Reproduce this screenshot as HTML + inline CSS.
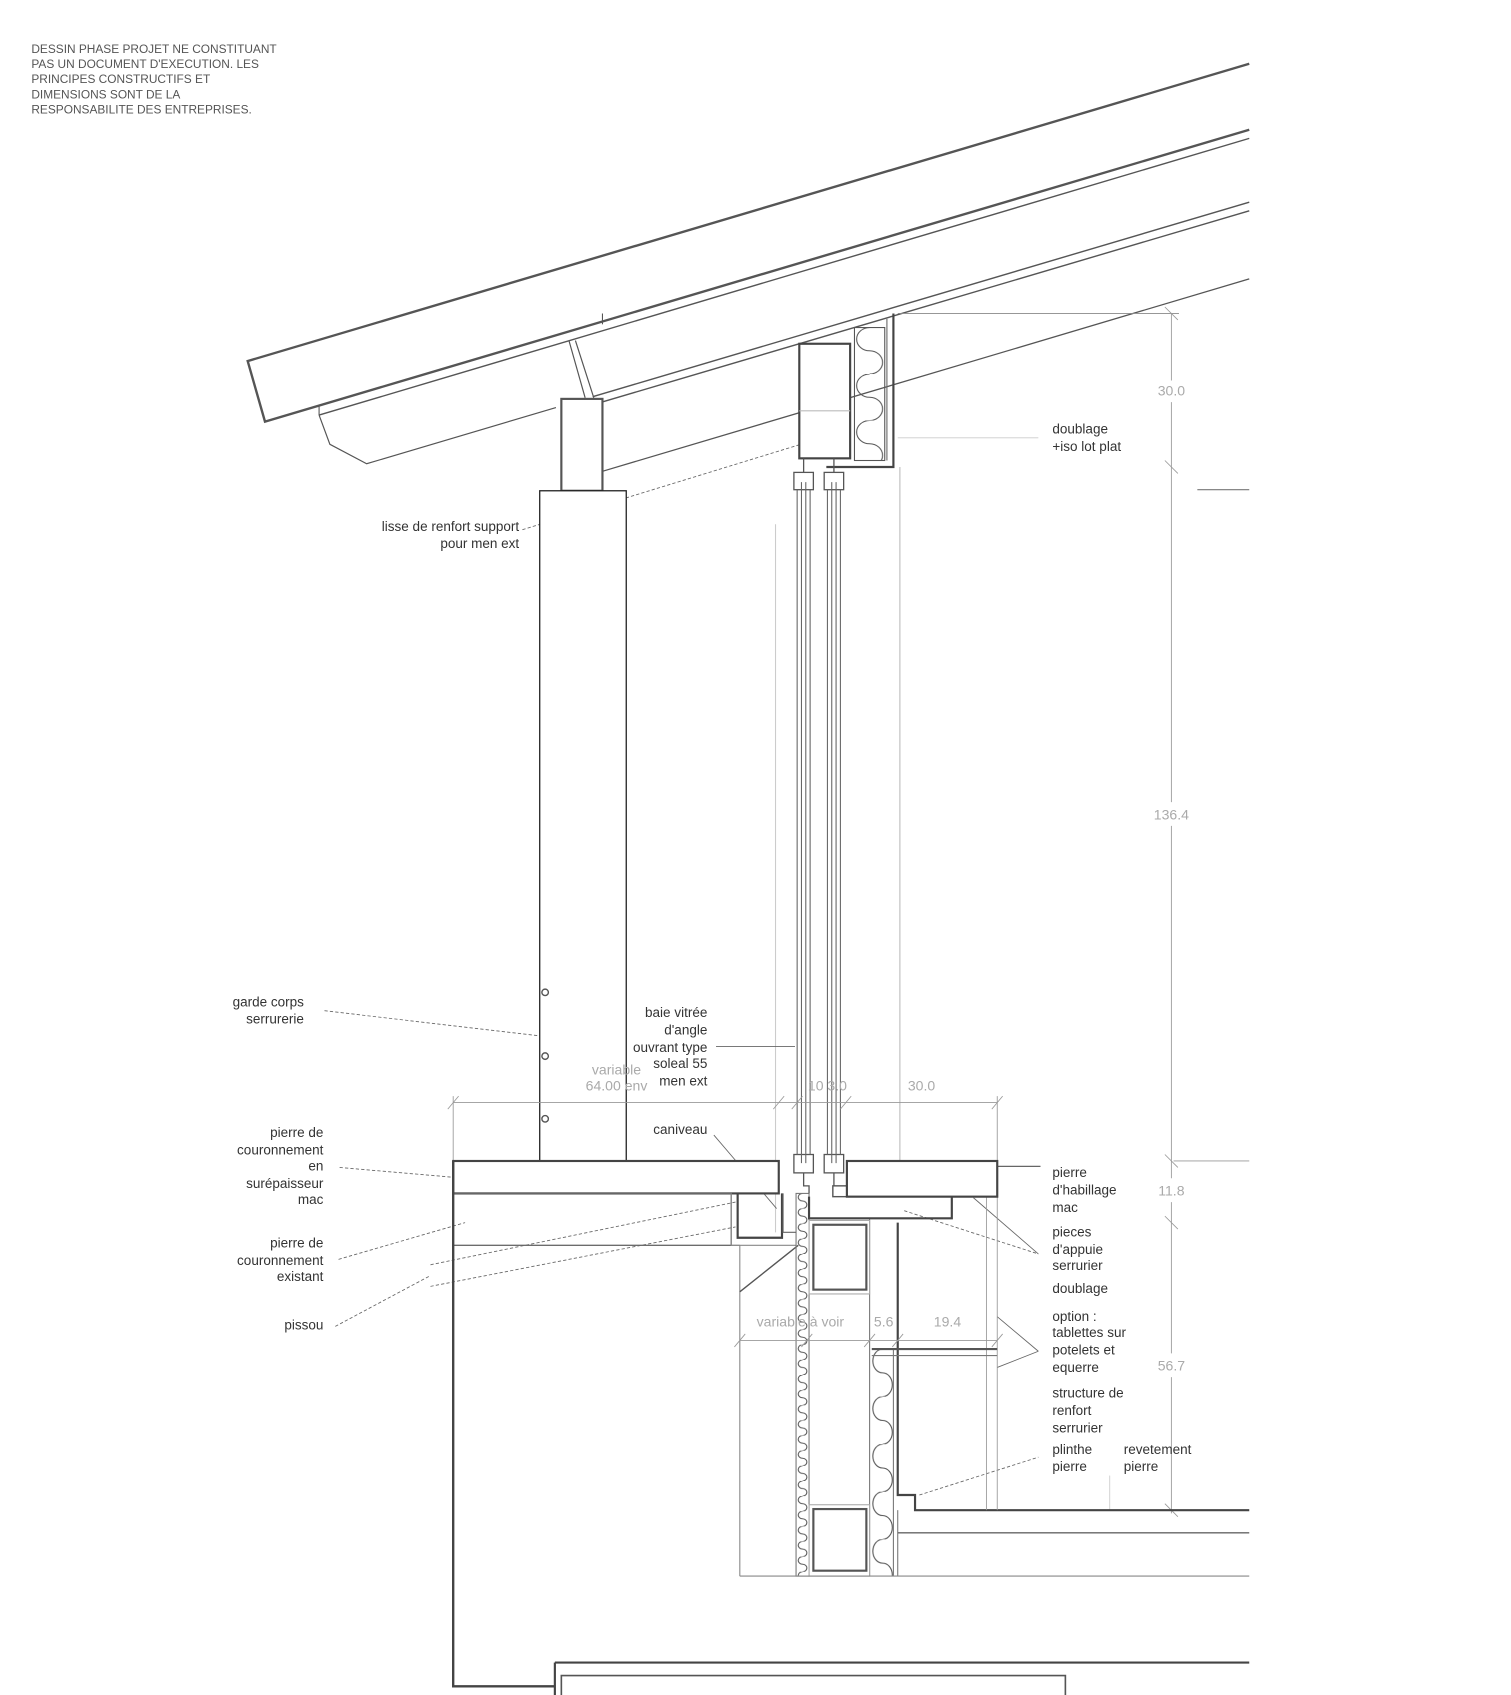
<!DOCTYPE html>
<html><head><meta charset="utf-8"><style>
html,body{margin:0;padding:0;background:#fff;}
svg{display:block;}
text{font-family:"Liberation Sans",sans-serif;}
.l{font-size:12.5px;fill:#333;}
.n{font-size:13px;fill:#aaa;text-anchor:middle;}
.t{font-size:11px;fill:#555;}
</style></head><body>
<svg width="1511" height="1695" viewBox="0 0 1397 1568" preserveAspectRatio="none" xmlns="http://www.w3.org/2000/svg">
<defs>
<pattern id="ws" x="736" y="1104" width="12" height="14" patternUnits="userSpaceOnUse">
<path d="M6,0 A4,3.5 0 0 0 6,7 A4,3.5 0 0 1 6,14" fill="none" stroke="#555" stroke-width="1"/>
</pattern>
<pattern id="wl" x="805" y="1248" width="22" height="44" patternUnits="userSpaceOnUse">
<path d="M11,0 A9,11 0 0 0 11,22 A9,11 0 0 1 11,44" fill="none" stroke="#555" stroke-width="1"/>
</pattern>
<pattern id="wt" x="790" y="303" width="28" height="43" patternUnits="userSpaceOnUse">
<path d="M14,0 A12,10.75 0 0 0 14,21.5 A12,10.75 0 0 1 14,43" fill="none" stroke="#555" stroke-width="1"/>
</pattern>
</defs>
<rect width="1397" height="1568" fill="#fff"/>

<g class="t">
<text x="29" y="49">DESSIN PHASE PROJET NE CONSTITUANT</text>
<text x="29" y="63">PAS UN DOCUMENT D'EXECUTION. LES</text>
<text x="29" y="77">PRINCIPES CONSTRUCTIFS ET</text>
<text x="29" y="91">DIMENSIONS SONT DE LA</text>
<text x="29" y="105">RESPONSABILITE DES ENTREPRISES.</text>
</g>

<!-- roof -->
<g fill="none" stroke="#555">
<polyline points="1155,59 229,334 245,390 1155,120" stroke-width="2.2"/>
<line x1="295" y1="384" x2="1155" y2="128" stroke-width="1.3"/>
<line x1="295" y1="376" x2="295" y2="384" stroke-width="1"/>
<line x1="557" y1="290" x2="557" y2="300" stroke-width="1"/>
<polyline points="295,384 305,411 339,429 514,377" stroke-width="1.1"/>
<line x1="548" y1="367" x2="1155" y2="187" stroke-width="1.3"/>
<line x1="553" y1="373" x2="1155" y2="195" stroke-width="1.3"/>
<line x1="526" y1="315" x2="541" y2="368" stroke-width="1.1"/>
<line x1="532" y1="315" x2="549" y2="368" stroke-width="1.1"/>
<line x1="557" y1="436" x2="1155" y2="258" stroke-width="1.2"/>
</g>
<line x1="483" y1="490" x2="760" y2="405" stroke="#666" stroke-width="0.8" stroke-dasharray="3,2"/>

<!-- post -->
<rect x="519" y="369" width="38" height="85" fill="#fff" stroke="#555" stroke-width="2"/>
<rect x="499" y="454" width="80" height="620" fill="#fff" stroke="#222" stroke-width="1.2"/>
<g fill="none" stroke="#555" stroke-width="1.3">
<circle cx="504" cy="918" r="3"/><circle cx="504" cy="977" r="3"/><circle cx="504" cy="1035" r="3"/>
</g>

<!-- window head -->
<rect x="790" y="303" width="28" height="123" fill="url(#wt)" stroke="#555" stroke-width="1"/>
<rect x="739" y="318" width="47" height="106" fill="#fff" stroke="#444" stroke-width="2"/>
<line x1="739" y1="380" x2="786" y2="380" stroke="#bbb" stroke-width="1"/>
<polyline points="826,290 826,432 764,432" fill="none" stroke="#444" stroke-width="2"/>
<line x1="820" y1="295" x2="820" y2="426" stroke="#666" stroke-width="1"/>
<line x1="830" y1="290" x2="1090" y2="290" stroke="#888" stroke-width="0.8"/>
<line x1="830" y1="405" x2="960" y2="405" stroke="#ccc" stroke-width="0.8"/>
<line x1="832" y1="432" x2="832" y2="1074" stroke="#bbb" stroke-width="1"/>
<line x1="717" y1="485" x2="717" y2="1140" stroke="#ccc" stroke-width="1"/>

<!-- glass -->
<g fill="none" stroke="#555" stroke-width="1.2">
<rect x="734" y="437" width="18" height="16"/><rect x="762" y="437" width="18" height="16"/>
<rect x="734" y="1068" width="18" height="17"/><rect x="762" y="1068" width="18" height="17"/>
<line x1="743" y1="424" x2="743" y2="437"/><line x1="771" y1="424" x2="771" y2="437"/>
</g>
<g stroke="#666" stroke-width="1">
<line x1="737" y1="453" x2="737" y2="1068"/><line x1="741" y1="446" x2="741" y2="1076"/>
<line x1="745" y1="446" x2="745" y2="1076"/><line x1="749" y1="453" x2="749" y2="1068"/>
<line x1="765" y1="453" x2="765" y2="1068"/><line x1="769" y1="446" x2="769" y2="1076"/>
<line x1="773" y1="446" x2="773" y2="1076"/><line x1="777" y1="453" x2="777" y2="1068"/>
</g>

<!-- right dims -->
<g stroke="#999" stroke-width="0.8" fill="none">
<line x1="1083" y1="290" x2="1083" y2="352"/><line x1="1083" y1="372" x2="1083" y2="742"/>
<line x1="1083" y1="764" x2="1083" y2="1090"/><line x1="1083" y1="1112" x2="1083" y2="1252"/>
<line x1="1083" y1="1274" x2="1083" y2="1400"/>
<line x1="1077" y1="284" x2="1089" y2="296"/><line x1="1077" y1="426" x2="1089" y2="438"/>
<line x1="1077" y1="1068" x2="1089" y2="1080"/><line x1="1077" y1="1125" x2="1089" y2="1137"/>
<line x1="1077" y1="1391" x2="1089" y2="1403"/>
<line x1="1085" y1="1074" x2="1155" y2="1074"/>
</g>
<line x1="1107" y1="453" x2="1155" y2="453" stroke="#777" stroke-width="1"/>
<text class="n" x="1083" y="366">30.0</text>
<text class="n" x="1083" y="758">136.4</text>
<text class="n" x="1083" y="1106">11.8</text>
<text class="n" x="1083" y="1268">56.7</text>

<!-- bottom dims top -->
<g stroke="#999" stroke-width="0.8">
<line x1="419" y1="1020" x2="922" y2="1020"/>
<line x1="419" y1="1014" x2="419" y2="1074"/>
<line x1="414" y1="1026" x2="424" y2="1014"/><line x1="715" y1="1026" x2="725" y2="1014"/>
<line x1="732" y1="1026" x2="742" y2="1014"/><line x1="777" y1="1026" x2="787" y2="1014"/>
<line x1="917" y1="1026" x2="927" y2="1014"/>
<line x1="922" y1="1014" x2="922" y2="1074"/>
</g>
<text class="n" x="570" y="994">variable</text>
<text class="n" x="570" y="1009">64.00  env</text>
<text class="n" x="765" y="1009">10 3.0</text>
<text class="n" x="852" y="1009">30.0</text>

<!-- labels -->
<g class="l" text-anchor="end">
<text x="480" y="491">lisse de renfort support</text><text x="480" y="507">pour men ext</text>
<text x="281" y="931">garde corps</text><text x="281" y="947">serrurerie</text>
<text x="654" y="941">baie vitrée</text><text x="654" y="957">d'angle</text><text x="654" y="973">ouvrant type</text><text x="654" y="988">soleal 55</text><text x="654" y="1004">men ext</text>
<text x="654" y="1049">caniveau</text>
<text x="299" y="1052">pierre de</text><text x="299" y="1068">couronnement</text><text x="299" y="1083">en</text><text x="299" y="1099">surépaisseur</text><text x="299" y="1114">mac</text>
<text x="299" y="1154">pierre de</text><text x="299" y="1170">couronnement</text><text x="299" y="1185">existant</text>
<text x="299" y="1230">pissou</text>
</g>
<g class="l">
<text x="973" y="401">doublage</text><text x="973" y="417">+iso lot plat</text>
<text x="973" y="1089">pierre</text><text x="973" y="1105">d'habillage</text><text x="973" y="1121">mac</text>
<text x="973" y="1144">pieces</text><text x="973" y="1160">d'appuie</text><text x="973" y="1175">serrurier</text>
<text x="973" y="1196">doublage</text>
<text x="973" y="1222">option :</text><text x="973" y="1237">tablettes sur</text><text x="973" y="1253">potelets et</text><text x="973" y="1269">equerre</text>
<text x="973" y="1293">structure de</text><text x="973" y="1309">renfort</text><text x="973" y="1325">serrurier</text>
<text x="973" y="1345">plinthe</text><text x="973" y="1361">pierre</text>
<text x="1039" y="1345">revetement</text><text x="1039" y="1361">pierre</text>
</g>
<g stroke="#666" stroke-width="0.8" fill="none" stroke-dasharray="3,2">
<line x1="300" y1="935" x2="497" y2="958"/>
<line x1="314" y1="1080" x2="430" y2="1090"/>
<line x1="313" y1="1165" x2="430" y2="1131"/>
<line x1="310" y1="1227" x2="398" y2="1180"/>
<line x1="398" y1="1170" x2="680" y2="1112"/>
<line x1="398" y1="1190" x2="680" y2="1135"/>
<line x1="836" y1="1120" x2="960" y2="1160"/>
<line x1="850" y1="1383" x2="960" y2="1348"/>
</g>
<g stroke="#666" stroke-width="0.8">
<line x1="662" y1="968" x2="735" y2="968"/>
<line x1="660" y1="1050" x2="718" y2="1118"/>
<line x1="922" y1="1079" x2="962" y2="1079" stroke-width="1.2"/>
<line x1="900" y1="1108" x2="960" y2="1160"/>
<line x1="922" y1="1218" x2="960" y2="1250"/>
<line x1="922" y1="1265" x2="960" y2="1250"/>
<line x1="1026" y1="1365" x2="1026" y2="1397" stroke="#ccc"/>
</g>

<!-- slab -->
<rect x="419" y="1074" width="301" height="30" fill="#fff" stroke="#444" stroke-width="2"/>
<rect x="419" y="1104" width="257" height="48" fill="none" stroke="#666" stroke-width="1.2"/>
<polyline points="419,1074 419,1560 513,1560" fill="none" stroke="#444" stroke-width="2.2"/>
<line x1="513" y1="1538" x2="1155" y2="1538" stroke="#444" stroke-width="2"/>
<line x1="513" y1="1538" x2="513" y2="1568" stroke="#444" stroke-width="2"/>
<polyline points="519,1568 519,1550 985,1550 985,1568" fill="none" stroke="#555" stroke-width="1.5"/>

<!-- caniveau -->
<polyline points="676,1104 676,1152 684,1152" fill="none" stroke="#888" stroke-width="1"/>
<polyline points="682,1104 682,1145 723,1145 723,1104" fill="none" stroke="#444" stroke-width="2"/>
<line x1="684" y1="1152" x2="684" y2="1458" stroke="#888" stroke-width="1"/>
<line x1="684" y1="1195" x2="738" y2="1152" stroke="#555" stroke-width="1.3"/>
<line x1="676" y1="1152" x2="736" y2="1152" stroke="#888" stroke-width="1"/>

<!-- wall -->
<rect x="736" y="1104" width="12" height="354" fill="url(#ws)" stroke="#777" stroke-width="1"/>
<line x1="804" y1="1127" x2="804" y2="1458" stroke="#777" stroke-width="1"/>
<rect x="752" y="1133" width="49" height="60" fill="none" stroke="#555" stroke-width="2"/>
<rect x="748" y="1129" width="56" height="68" fill="none" stroke="#aaa" stroke-width="1"/>
<rect x="752" y="1396" width="49" height="57" fill="none" stroke="#555" stroke-width="2"/>
<rect x="748" y="1392" width="56" height="66" fill="none" stroke="#aaa" stroke-width="1"/>
<rect x="805" y="1248" width="22" height="210" fill="url(#wl)" stroke="none"/>
<polyline points="830,1131 830,1383 846,1383 846,1397 1155,1397" fill="none" stroke="#444" stroke-width="2"/>
<line x1="826" y1="1248" x2="826" y2="1458" stroke="#777" stroke-width="1"/>
<line x1="830" y1="1397" x2="830" y2="1458" stroke="#777" stroke-width="1"/>
<line x1="830" y1="1418" x2="1155" y2="1418" stroke="#666" stroke-width="1.3"/>
<line x1="684" y1="1458" x2="1155" y2="1458" stroke="#888" stroke-width="1"/>
<line x1="912" y1="1107" x2="912" y2="1397" stroke="#999" stroke-width="0.8"/>
<line x1="922" y1="1107" x2="922" y2="1397" stroke="#999" stroke-width="0.8"/>
<line x1="806" y1="1248" x2="922" y2="1248" stroke="#555" stroke-width="2"/>
<line x1="806" y1="1254" x2="922" y2="1254" stroke="#777" stroke-width="1"/>

<!-- sill -->
<polyline points="724,1104 724,1140 736,1140" fill="none" stroke="#666" stroke-width="1"/>
<polyline points="748,1107 748,1127 880,1127 880,1107" fill="none" stroke="#444" stroke-width="2"/>
<rect x="770" y="1097" width="47" height="10" fill="#fff" stroke="#555" stroke-width="1.3"/>
<polyline points="743,1085 743,1097 748,1097 748,1104" fill="none" stroke="#555" stroke-width="1.2"/>
<line x1="771" y1="1085" x2="771" y2="1097" stroke="#555" stroke-width="1.2"/>
<rect x="783" y="1074" width="139" height="33" fill="#fff" stroke="#444" stroke-width="2"/>

<!-- lower dims -->
<g stroke="#999" stroke-width="0.8">
<line x1="684" y1="1240" x2="922" y2="1240"/>
<line x1="679" y1="1246" x2="689" y2="1234"/><line x1="741" y1="1246" x2="751" y2="1234"/>
<line x1="799" y1="1246" x2="809" y2="1234"/><line x1="825" y1="1246" x2="835" y2="1234"/>
<line x1="917" y1="1246" x2="927" y2="1234"/>
</g>
<text class="n" x="740" y="1227">variable à voir</text>
<text class="n" x="817" y="1227">5.6</text>
<text class="n" x="876" y="1227">19.4</text>
</svg>
</body></html>
